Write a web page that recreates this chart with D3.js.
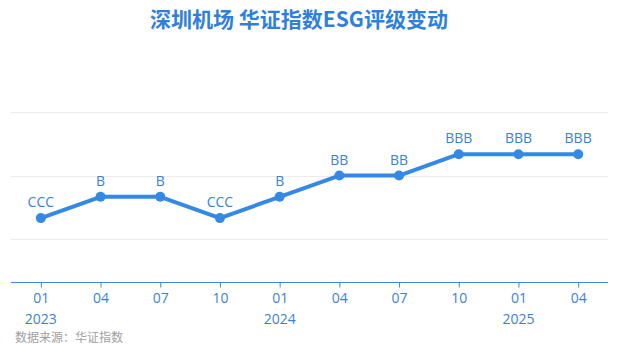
<!DOCTYPE html>
<html>
<head>
<meta charset="utf-8">
<script src="https://cdn.jsdelivr.net/npm/d3@7"></script>
<style>
  body { margin: 0; background: #fff; }
  svg { display: block; font-family: "Noto Sans CJK SC", "Open Sans", sans-serif; }
</style>
</head>
<body>
<svg id="svg" width="618" height="355"></svg>
<script>
// data
const months = ["01", "04", "07", "10", "01", "04", "07", "10", "01", "04"];
const years = ["2023", "", "", "", "2024", "", "", "", "2025", ""];
const ratings = ["CCC", "B", "B", "CCC", "B", "BB", "BB", "BBB", "BBB", "BBB"];
// rating scale (C..AAA), index used as y value
const scaleLevels = ["", "C", "CC", "CCC", "B", "BB", "BBB", "A", "AA", "AAA"];
const gridTicks = [2, 5, 8];

const svg = d3.select("#svg");
const margin = {top: 60, right: 10, bottom: 73, left: 11};
const width = +svg.attr("width");
const height = +svg.attr("height");

const blue = "#3589e6";
const labelBlue = "#3b82d4";

const x = d3.scalePoint()
  .domain(d3.range(months.length))
  .range([margin.left, width - margin.right])
  .padding(0.5);

const y = d3.scaleLinear()
  .domain([0, 8.03])
  .range([height - margin.bottom, 111]);

// title
svg.append("text")
  .attr("x", 299)
  .attr("y", 27)
  .attr("text-anchor", "middle")
  .attr("font-size", 21)
  .attr("font-weight", "bold")
  .attr("fill", "#2f80dc")
  .text("深圳机场 华证指数ESG评级变动");

// grid lines
svg.append("g")
  .selectAll("line")
  .data(gridTicks)
  .join("line")
  .attr("x1", margin.left)
  .attr("x2", width - margin.right)
  .attr("y1", d => Math.round(y(d)) + 0.5)
  .attr("y2", d => Math.round(y(d)) + 0.5)
  .attr("stroke", "#ebebeb")
  .attr("stroke-width", 1);

// x axis
const xAxis = g => g
  .attr("transform", `translate(0,${Math.round(y(0)) + 0.5})`)
  .call(d3.axisBottom(x).tickSize(5).tickSizeOuter(0).tickPadding(6).tickFormat(i => months[i]))
  .call(g => g.select(".domain").attr("stroke", blue).attr("stroke-width", 1.2))
  .call(g => g.selectAll(".tick line").attr("stroke", blue))
  .call(g => g.selectAll(".tick text")
    .attr("fill", labelBlue)
    .attr("font-size", 14)
    .attr("font-family", "\"Open Sans\", \"Noto Sans CJK SC\", sans-serif"));

const axisG = svg.append("g").call(xAxis);
axisG.select(".domain").attr("d", `M${margin.left},0H${width - margin.right}`);

// year labels
svg.append("g")
  .selectAll("text")
  .data(years.map((t, i) => ({t, i})).filter(d => d.t))
  .join("text")
  .attr("x", d => x(d.i))
  .attr("y", 324)
  .attr("text-anchor", "middle")
  .attr("font-size", 14)
  .attr("font-family", "\"Open Sans\", sans-serif")
  .attr("fill", labelBlue)
  .text(d => d.t);

// line
const pts = ratings.map((r, i) => ({i, r, v: scaleLevels.indexOf(r)}));
const line = d3.line()
  .x(d => x(d.i))
  .y(d => y(d.v));

svg.append("path")
  .datum(pts)
  .attr("fill", "none")
  .attr("stroke", blue)
  .attr("stroke-width", 4)
  .attr("stroke-linejoin", "round")
  .attr("d", line);

svg.append("g")
  .selectAll("circle")
  .data(pts)
  .join("circle")
  .attr("cx", d => x(d.i))
  .attr("cy", d => y(d.v))
  .attr("r", 5)
  .attr("fill", blue);

svg.append("g")
  .selectAll("text")
  .data(pts)
  .join("text")
  .attr("x", d => x(d.i))
  .attr("y", d => y(d.v) - 11)
  .attr("text-anchor", "middle")
  .attr("font-size", 14)
  .attr("font-family", "\"Open Sans\", sans-serif")
  .attr("fill", labelBlue)
  .text(d => d.r);

// source
svg.append("text")
  .attr("x", 15)
  .attr("y", 342)
  .attr("font-size", 12)
  .attr("fill", "#a0a0a0")
  .text("数据来源：华证指数");
</script>
</body>
</html>
